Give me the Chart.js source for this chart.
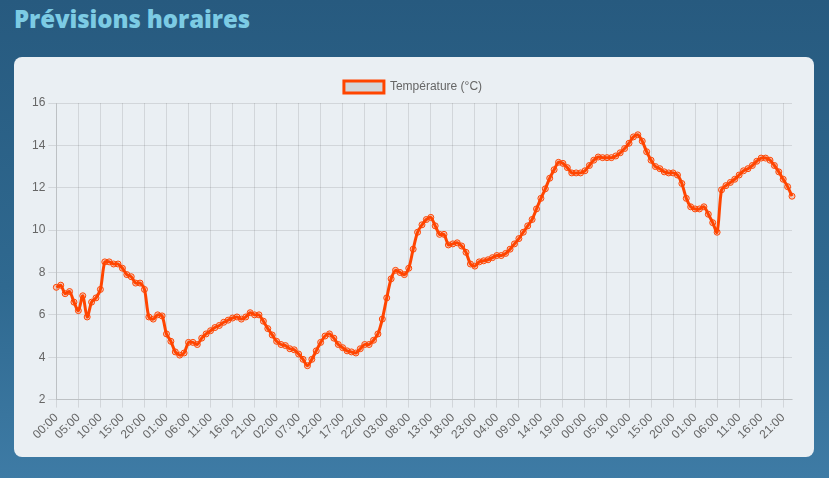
<!DOCTYPE html>
<html>
<head>
<meta charset="utf-8">
<script src="https://cdn.jsdelivr.net/npm/chart.js@4"></script>
<style>
    html, body {
        margin: 0;
        padding: 0;
        width: 829px;
        height: 478px;
        overflow: hidden;
        background: linear-gradient(180deg, #275a7f 0%, #2f6990 60%, #3e7ba5 100%);
        font-family: "Open Sans", sans-serif;
    }
    h2 {
        position: absolute;
        left: 14px;
        top: 2px;
        margin: 0;
        font-size: 24px;
        font-weight: 800;
        color: #7ccbe4;
        letter-spacing: -0.1px;
    }
    .card {
        position: absolute;
        left: 14px;
        top: 57px;
        width: 800px;
        height: 400px;
        background: #eaeff3;
        border-radius: 8px;
    }
    .chart-box {
        position: absolute;
        left: 15px;
        top: 14px;
        width: 768px;
        height: 374px;
    }
</style>
</head>
<body>
<h2>Prévisions horaires</h2>
<div class="card">
    <div class="chart-box"><canvas id="graph-hourly"></canvas></div>
</div>
<script>
// Temperatur per time, en liste per dag (fra 00:00)
const day1 = [7.3, 7.4, 7.0, 7.1, 6.6, 6.2, 6.9, 5.9, 6.6, 6.8, 7.2, 8.5, 8.5, 8.4, 8.4, 8.2, 7.9, 7.8, 7.5, 7.5, 7.2, 5.9, 5.8, 6.0];
const day2 = [5.95, 5.1, 4.75, 4.25, 4.1, 4.2, 4.7, 4.7, 4.6, 4.9, 5.1, 5.25, 5.4, 5.5, 5.65, 5.75, 5.85, 5.9, 5.8, 5.9, 6.1, 6.0, 6.0, 5.7];
const day3 = [5.35, 5.05, 4.75, 4.6, 4.55, 4.4, 4.35, 4.15, 3.9, 3.6, 3.9, 4.3, 4.7, 5.0, 5.1, 4.9, 4.6, 4.45, 4.3, 4.25, 4.2, 4.4, 4.6, 4.6];
const day4 = [4.8, 5.1, 5.8, 6.8, 7.7, 8.1, 8.0, 7.9, 8.2, 9.1, 9.9, 10.25, 10.5, 10.6, 10.2, 9.8, 9.8, 9.3, 9.35, 9.4, 9.25, 8.95, 8.4, 8.3];
const day5 = [8.5, 8.55, 8.6, 8.7, 8.8, 8.8, 8.9, 9.1, 9.35, 9.6, 9.9, 10.2, 10.5, 11.0, 11.5, 11.95, 12.45, 12.85, 13.2, 13.15, 12.95, 12.7, 12.7, 12.7];
const day6 = [12.8, 13.05, 13.3, 13.45, 13.42, 13.42, 13.42, 13.5, 13.65, 13.85, 14.1, 14.4, 14.5, 14.2, 13.7, 13.3, 13.0, 12.9, 12.75, 12.7, 12.7, 12.6, 12.2, 11.5];
const day7 = [11.1, 11.0, 11.0, 11.1, 10.75, 10.35, 9.9, 11.9, 12.1, 12.25, 12.4, 12.6, 12.8, 12.9, 13.05, 13.25, 13.4, 13.4, 13.3, 13.05, 12.75, 12.4, 12.05, 11.6];

const hours = ["00:00", "01:00", "02:00", "03:00", "04:00", "05:00", "06:00", "07:00",
    "08:00", "09:00", "10:00", "11:00", "12:00", "13:00", "14:00", "15:00",
    "16:00", "17:00", "18:00", "19:00", "20:00", "21:00", "22:00", "23:00"];

const days = [day1, day2, day3, day4, day5, day6, day7];
const values = days.flat();
const labels = days.flatMap(() => hours);

new Chart(
    document.getElementById("graph-hourly"),
    {
        type: "line",
        data: {
            labels,
            datasets: [{
                label: "Température (°C)",
                data: values,
                borderColor: "#ff4500",
                backgroundColor: "rgba(0,0,0,0.1)",
                borderWidth: 3,
                pointRadius: 3,
                pointBorderWidth: 1,
                pointBackgroundColor: "rgba(255,69,0,0.2)",
                tension: 0.3,
                fill: false
            }]
        },
        options: {
            responsive: true,
            maintainAspectRatio: false,
            animation: false,
            plugins: {
                legend: {
                    labels: { color: "#666", font: { size: 12 } }
                }
            },
            scales: {
                x: {
                    ticks: {
                        color: "#666",
                        autoSkip: false,
                        minRotation: 45,
                        maxRotation: 45,
                        callback: (v, i) => i % 5 === 0 ? labels[i] : null
                    }
                },
                y: {
                    min: 2,
                    max: 16,
                    ticks: { stepSize: 2, color: "#666" }
                }
            }
        }
    }
);
</script>
</body>
</html>
